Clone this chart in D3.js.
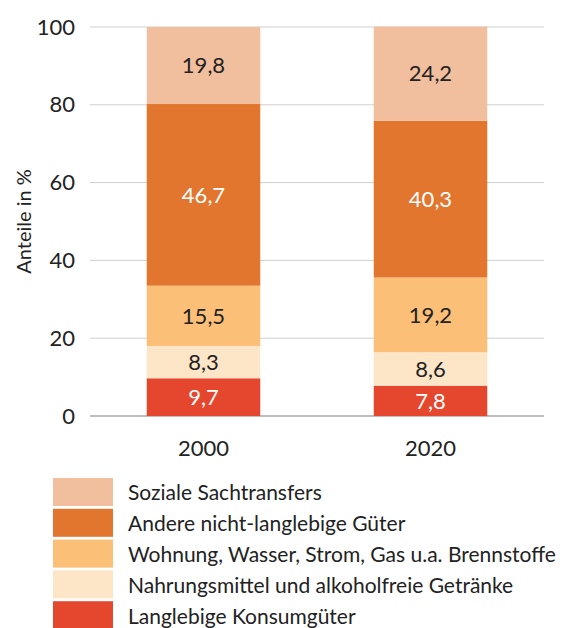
<!DOCTYPE html>
<html>
<head>
<meta charset="utf-8">
<script src="https://cdn.jsdelivr.net/npm/d3@7"></script>
<style>
  body { margin: 0; background: #fff; }
  text { font-family: "Lato", "Noto Sans", sans-serif; fill: #222; }
</style>
</head>
<body>
<div id="chart"></div>
<script>
var years = ["2000", "2020"];
// stacked bottom to top
var categories = [
    "Langlebige Konsumgüter",
    "Nahrungsmittel und alkoholfreie Getränke",
    "Wohnung, Wasser, Strom, Gas u.a. Brennstoffe",
    "Andere nicht-langlebige Güter",
    "Soziale Sachtransfers"
];
var values2000 = [9.7, 8.3, 15.5, 46.7, 19.8];
var values2020 = [7.8, 8.6, 19.2, 40.3, 24.2];
var colors = ["#e5472e", "#fde5c7", "#fbbf78", "#e2762e", "#f2bf9e"];
var labelColors = ["#fff", "#222", "#222", "#fff", "#222"];
var yTicks = [0, 20, 40, 60, 80, 100];

var width = 571, height = 628;
var margin = {left: 90, right: 27, top: 27, bottom: 212};

var svg = d3.select("#chart").append("svg").attr("width", width).attr("height", height);

var x = d3.scaleBand().domain(years).range([margin.left, width - margin.right])
    .paddingInner(0.5).paddingOuter(0.25);
var y = d3.scaleLinear().domain([0, 100]).range([height - margin.bottom, margin.top]);

// grid lines
svg.append("g").selectAll("line").data(yTicks).enter().append("line")
    .attr("x1", margin.left).attr("x2", width - margin.right)
    .attr("y1", function(d){ return y(d); }).attr("y2", function(d){ return y(d); })
    .attr("stroke", function(d){ return d === 0 ? "#bdbdbd" : "#cfcfcf"; })
    .attr("stroke-width", function(d){ return d === 0 ? 2 : 1; });

var yAxis = svg.append("g").attr("transform", "translate(" + (margin.left - 15) + ",0)")
    .call(d3.axisLeft(y).tickValues(yTicks).tickSize(0).tickPadding(0));
yAxis.select(".domain").remove();
yAxis.selectAll("text").style("font-size", "22px").attr("fill", "#222");

svg.append("text").attr("transform", "translate(31," + y(50) + ") rotate(-90)")
    .attr("text-anchor", "middle").style("font-size", "20px").text("Anteile in %");

var data = years.map(function(yr, i) {
    var vals = i === 0 ? values2000 : values2020;
    var acc = 0;
    return vals.map(function(v, k) {
        var seg = {year: yr, k: k, v: v, y0: acc, y1: acc + v};
        acc += v;
        return seg;
    });
});

var bars = svg.append("g").selectAll("g").data(data).enter().append("g");
bars.selectAll("rect").data(function(d){ return d; }).enter().append("rect")
    .attr("x", function(d){ return x(d.year); })
    .attr("width", x.bandwidth())
    .attr("y", function(d){ return y(d.y1); })
    .attr("height", function(d){ return y(d.y0) - y(d.y1); })
    .attr("fill", function(d){ return colors[d.k]; });

bars.selectAll("text").data(function(d){ return d; }).enter().append("text")
    .attr("x", function(d){ return x(d.year) + x.bandwidth() / 2; })
    .attr("y", function(d){ return y((d.y0 + d.y1) / 2); })
    .attr("dy", "0.35em")
    .attr("text-anchor", "middle")
    .style("font-size", "22px")
    .style("fill", function(d){ return labelColors[d.k]; })
    .text(function(d){ return d3.format(".1f")(d.v).replace(".", ","); });

var xAxis = svg.append("g").attr("transform", "translate(0," + (y(0) + 24) + ")")
    .call(d3.axisBottom(x).tickSize(0).tickPadding(0));
xAxis.select(".domain").remove();
xAxis.selectAll("text").style("font-size", "22px").attr("fill", "#222");

// legend, top entry first
var legend = svg.append("g").selectAll("g").data(categories.slice().reverse()).enter().append("g")
    .attr("transform", function(d, i){ return "translate(53," + (478 + i * 30.8) + ")"; });
legend.append("rect").attr("width", 60).attr("height", 28)
    .attr("fill", function(d, i){ return colors[categories.length - 1 - i]; });
legend.append("text").attr("x", 75).attr("y", 15).attr("dy", "0.35em")
    .style("font-size", "21px").text(function(d){ return d; });
</script>
</body>
</html>
